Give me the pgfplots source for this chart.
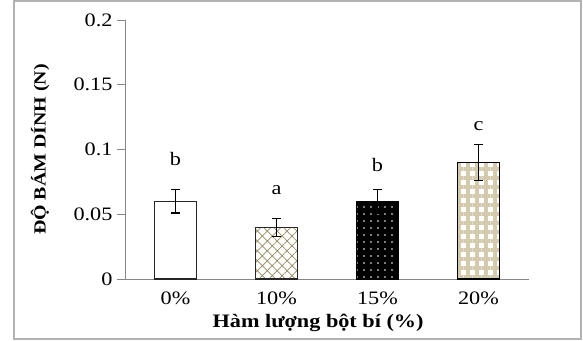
\documentclass[border=0pt]{standalone}
\usepackage{pgfplots}
\pgfplotsset{compat=1.18}
\usepackage{fontspec}
\setmainfont[FakeStretch=1.17]{Liberation Serif}
\usetikzlibrary{patterns.meta}
\definecolor{axgray}{RGB}{134,134,134}
\definecolor{olivepat}{RGB}{150,138,95}
\definecolor{beigepat}{RGB}{212,203,175}
\begin{document}
\begin{tikzpicture}[x=1pt,y=1pt]
\path (0,0) rectangle (583,340);
\draw[color=gray!60, line width=2pt] (14,1) rectangle (581,339);
\begin{axis}[
  at={(125pt,61pt)}, anchor=south west,
  scale only axis, width=404pt, height=259pt,
  xmin=-0.5, xmax=3.5, ymin=0, ymax=0.2,
  axis lines=left, axis line style={axgray, line width=0.9pt, -},
  xtick={0,1,2,3}, xticklabels={0\%,10\%,15\%,20\%},
  x tick style={draw=none},
  extra x ticks={-0.5,0.5,1.5,2.5,3.5}, extra x tick labels={},
  extra x tick style={tick style={axgray, line width=0.9pt, draw=axgray}, major tick length=6pt, tick align=outside},
  ytick={0,0.05,0.1,0.15,0.2},
  yticklabels={0,0.05,0.1,0.15,0.2},
  y tick style={axgray, line width=0.9pt},
  major tick length=8pt, tick align=outside,
  tick label style={font=\fontsize{19}{21}\selectfont, text=black},
  x tick label style={yshift=-1pt},
  y tick label style={xshift=-1pt},
  xlabel={\textbf{Hàm lượng bột bí (\%)}},
  xlabel style={font=\fontsize{19}{21}\selectfont, at={(axis description cs:0.478,0)}, anchor=center, yshift=-44pt},
  ylabel={\textbf{ĐỘ BÁM DÍNH (N)}},
  ylabel style={font=\fontsize{17}{19}\selectfont, at={(axis description cs:-0.21,0.5)}, anchor=center},
  clip=false,
  error bars/y dir=both, error bars/y explicit,
  error bars/error bar style={black, line width=1.2pt},
  error bars/error mark options={rotate=90, mark size=4.5pt, black, line width=1.2pt},
]
\addplot[ybar, bar width=0.42, bar shift=0pt, draw=black!85, line width=1.3pt, fill=white]
  coordinates {(0,0.06) +- (0,0.009)};
\addplot[ybar, bar width=0.42, bar shift=0pt, draw=black!85, line width=1.3pt, fill=white,
  postaction={pattern={Hatch[angle=45, distance=7pt, line width=0.7pt]}, pattern color=olivepat}]
  coordinates {(1,0.04) +- (0,0.007)};
\addplot[ybar, bar width=0.42, bar shift=0pt, draw=black, line width=1.3pt, fill=black,
  postaction={pattern={Dots[distance=7pt, radius=0.8pt]}, pattern color=white}]
  coordinates {(2,0.06) +- (0,0.009)};
\addplot[ybar, bar width=0.42, bar shift=0pt, draw=black, line width=1.3pt, fill=white,
  postaction={pattern={Hatch[angle=0, distance=9pt, line width=3.5pt]}, pattern color=beigepat}]
  coordinates {(3,0.09) +- (0,0.014)};
\addplot[only marks, mark=none, nodes near coords, point meta=explicit symbolic,
  nodes near coords style={anchor=center, font=\fontsize{19}{21}\selectfont, text=black}]
  table[meta=lab] {
x y lab
0 0.093 b
1 0.069 a
2 0.088 b
3 0.118 c
};
\end{axis}
\end{tikzpicture}
\end{document}
